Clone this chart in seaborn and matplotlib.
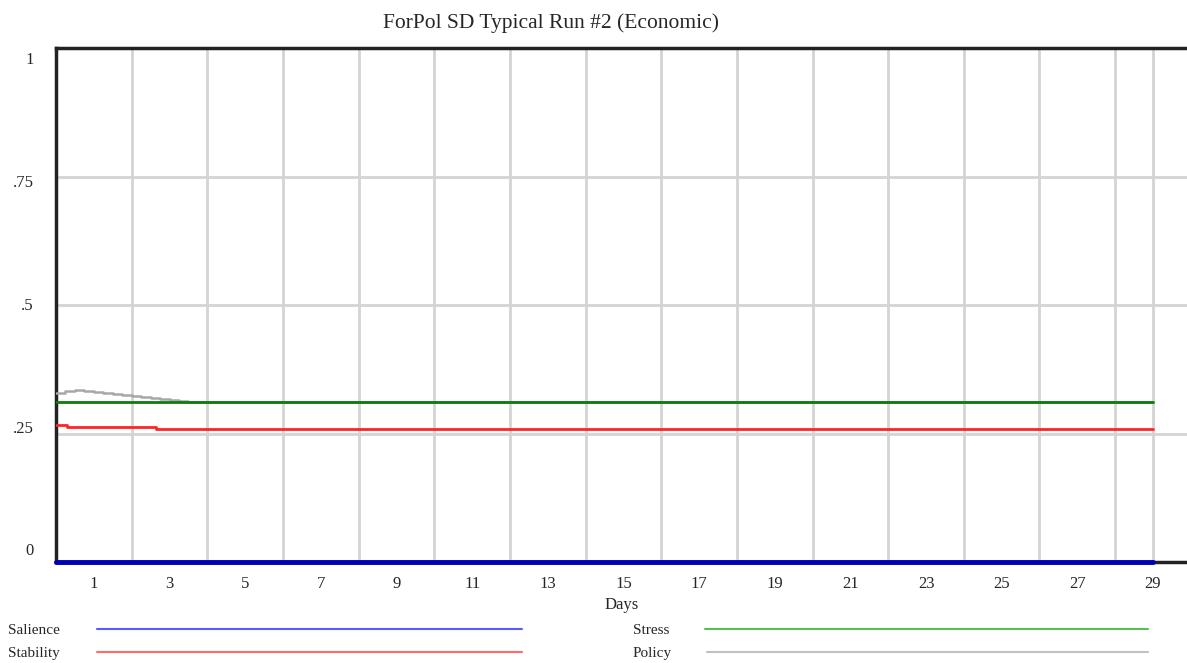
import numpy as np
import pandas as pd
import matplotlib
matplotlib.use("Agg")
import matplotlib.pyplot as plt
import matplotlib.transforms as mtransforms
from matplotlib.lines import Line2D
import seaborn as sns

# values (time in days)
salience_t = [0, 29]
salience_v = [0.0, 0.0]

stress_t = [0, 29]
stress_v = [0.311, 0.311]

stability_t = [0, 0.3, 2.65, 29]
stability_v = [0.266, 0.263, 0.258, 0.258]

policy_t = [0, 0.25, 0.5, 0.75, 1.0, 1.25, 1.5, 1.75, 2.0, 2.25, 2.5, 2.75, 3.0, 3.25, 3.5, 29]
policy_v = [0.329, 0.332, 0.335, 0.333, 0.331, 0.329, 0.327, 0.325, 0.323,
            0.321, 0.319, 0.317, 0.315, 0.314, 0.311, 0.311]

x_labels = list(range(1, 30, 2))
x_grid = list(range(2, 29, 2)) + [29]
y_ticks = [0, 0.25, 0.5, 0.75, 1]
y_labels = ["0", ".25", ".5", ".75", "1"]

sns.set_theme(style="white")
plt.rcParams['font.family'] = ['Liberation Serif', 'DejaVu Serif']

fig = plt.figure(figsize=(11.87, 6.63), dpi=100)
ax = fig.add_axes([0.0472, 0.1523, 0.9528, 0.7753])

policy = pd.DataFrame({"t": policy_t, "v": policy_v})
stress = pd.DataFrame({"t": stress_t, "v": stress_v})
stability = pd.DataFrame({"t": stability_t, "v": stability_v})
salience = pd.DataFrame({"t": salience_t, "v": salience_v})

sns.lineplot(data=policy, x="t", y="v", color="#a8a8a8", linewidth=1.8,
             drawstyle="steps-post", ax=ax, zorder=3)
sns.lineplot(data=stress, x="t", y="v", color="#0a7d0a", linewidth=2, ax=ax, zorder=4)
sns.lineplot(data=stability, x="t", y="v", color="#ff2424", linewidth=2,
             drawstyle="steps-post", ax=ax, zorder=4)
sns.lineplot(data=salience, x="t", y="v", color="#0000b4", linewidth=3.5,
             ax=ax, zorder=6, clip_on=False)

ax.set_xlim(0, 29.9)
ax.set_ylim(0, 1)

ax.xaxis.remove_overlapping_locs = False
ax.set_xticks(x_grid)
ax.set_xticklabels([])
ax.set_xticks(x_labels, minor=True)
ax.set_xticklabels([str(d) for d in x_labels], minor=True, fontsize=12)
ax.set_yticks(y_ticks)
ax.set_yticklabels(y_labels, fontsize=12)
ax.tick_params(axis="both", which="both", length=0)
ax.tick_params(axis="x", which="minor", pad=10)
ax.tick_params(axis="y", pad=16)

ax.grid(True, which="major", color="#d4d4d4", linewidth=2)
ax.grid(False, which="minor")
ax.set_axisbelow(True)

# Vensim squeezes its y labels inward a little
offs = [-13, -7, -1, 4, 10]
for lab, dy in zip(ax.get_yticklabels(), offs):
    lab.set_transform(lab.get_transform() +
                      mtransforms.ScaledTranslation(0, -dy / 100, fig.dpi_scale_trans))

for side in ["left", "top", "bottom"]:
    ax.spines[side].set_color("#222222")
    ax.spines[side].set_linewidth(2.5)
ax.spines["right"].set_visible(False)

ax.set_xlabel("Days", fontsize=12, labelpad=4)
ax.set_ylabel("")
fig.text(0.464, 0.965, "ForPol SD Typical Run #2 (Economic)", ha="center",
         va="center", fontsize=15.5)

# legend rows at the bottom, Vensim style
legend_items = [
    ("Salience", "#5a5aff", 0.0067, 0.082, 0.44, 0.049),
    ("Stability", "#ff6a6a", 0.0067, 0.082, 0.44, 0.015),
    ("Stress", "#5cbc5c", 0.533, 0.594, 0.967, 0.049),
    ("Policy", "#c0c0c0", 0.533, 0.596, 0.967, 0.015),
]
for name, col, tx, x0, x1, yy in legend_items:
    fig.text(tx, yy, name, ha="left", va="center", fontsize=11)
    fig.add_artist(Line2D([x0, x1], [yy + 0.002, yy + 0.002], color=col,
                          linewidth=1.5, transform=fig.transFigure))

fig.savefig("out.png", dpi=100)
